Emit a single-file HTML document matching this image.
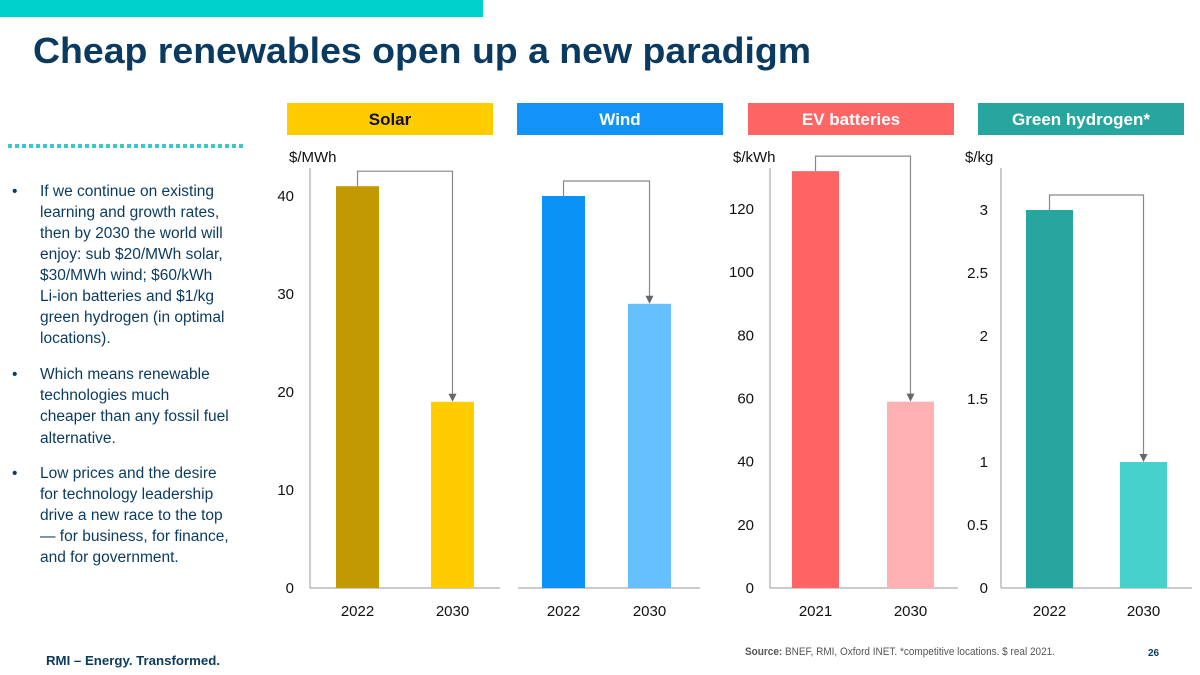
<!DOCTYPE html>
<html><head><meta charset="utf-8">
<style>
html,body{margin:0;padding:0;background:#fff;}
svg{display:block;font-family:"Liberation Sans",Arial,sans-serif;}
</style></head>
<body>
<svg id="s" width="1200" height="675" viewBox="0 0 1200 675" xmlns="http://www.w3.org/2000/svg">
<rect x="0" y="0" width="483" height="17" fill="#00d1cc"/>
<text x="33" y="63" font-size="36" font-weight="bold" fill="#0a3a5f" textLength="778" lengthAdjust="spacingAndGlyphs">Cheap renewables open up a new paradigm</text>
<line x1="8" y1="146" x2="244" y2="146" stroke="#3cc9c6" stroke-width="4" stroke-dasharray="4,3"/>
<g font-size="15.5" fill="#0a3a5f">
<text x="12" y="196">•</text>
<text x="40" y="196">If we continue on existing</text>
<text x="40" y="217">learning and growth rates,</text>
<text x="40" y="238">then by 2030 the world will</text>
<text x="40" y="259">enjoy: sub $20/MWh solar,</text>
<text x="40" y="280">$30/MWh wind; $60/kWh</text>
<text x="40" y="301">Li-ion batteries and $1/kg</text>
<text x="40" y="322">green hydrogen (in optimal</text>
<text x="40" y="343">locations).</text>
<text x="12" y="379">•</text>
<text x="40" y="379">Which means renewable</text>
<text x="40" y="400">technologies much</text>
<text x="40" y="421">cheaper than any fossil fuel</text>
<text x="40" y="443">alternative.</text>
<text x="12" y="478">•</text>
<text x="40" y="478">Low prices and the desire</text>
<text x="40" y="499">for technology leadership</text>
<text x="40" y="520">drive a new race to the top</text>
<text x="40" y="541">— for business, for finance,</text>
<text x="40" y="562">and for government.</text>
</g>
<text x="46" y="665" font-size="13" font-weight="bold" fill="#0a3a5f" textLength="174" lengthAdjust="spacingAndGlyphs">RMI – Energy. Transformed.</text>
<text x="745" y="655" font-size="11" fill="#555" textLength="310" lengthAdjust="spacingAndGlyphs"><tspan font-weight="bold">Source:</tspan> BNEF, RMI, Oxford INET. *competitive locations. $ real 2021.</text>
<text x="1148" y="656" font-size="10" font-weight="bold" fill="#0a3a5f">26</text>
<g id="charts"></g>
</svg>
<script>
const panelNames = ["Solar", "Wind", "EV batteries", "Green hydrogen*"];
const solarCats = ["2022", "2030"];
const solarVals = [41, 19];
const windCats = ["2022", "2030"];
const windVals = [40, 29];
const evCats = ["2021", "2030"];
const evVals = [132, 59];
const h2Cats = ["2022", "2030"];
const h2Vals = [3, 1];
const solarTicks = [0, 10, 20, 30, 40];
const evTicks = [0, 20, 40, 60, 80, 100, 120];
const h2Ticks = [0, 0.5, 1, 1.5, 2, 2.5, 3];

const NS = "http://www.w3.org/2000/svg";
const g = document.getElementById("charts");
function el(tag, attrs, parent) {
  const e = document.createElementNS(NS, tag);
  for (const k in attrs) e.setAttribute(k, attrs[k]);
  (parent || g).appendChild(e);
  return e;
}
const base = 588;
const panels = [
  {name: panelNames[0], hx: 287, hc: "#ffcc00", tc: "#111", cats: solarCats, vals: solarVals, scale: 9.8, bx: [336, 431], bw: 43, cols: ["#c29900", "#ffcc00"], axisX: 310, axisEnd: 500, ticks: solarTicks, unit: "$/MWh", unitX: 289, tickX: 294},
  {name: panelNames[1], hx: 517, hc: "#1393f8", tc: "#fff", cats: windCats, vals: windVals, scale: 9.8, bx: [542, 628], bw: 43, cols: ["#0b92f7", "#66bfff"], axisX: 518, axisEnd: 700, ticks: null},
  {name: panelNames[2], hx: 748, hc: "#ff6565", tc: "#fff", cats: evCats, vals: evVals, scale: 3.158, bx: [792, 887], bw: 47, cols: ["#ff6464", "#ffb0b0"], axisX: 770, axisEnd: 958, ticks: evTicks, unit: "$/kWh", unitX: 733, tickX: 754},
  {name: panelNames[3], hx: 978, hc: "#27a59f", tc: "#fff", cats: h2Cats, vals: h2Vals, scale: 126.0, bx: [1026, 1120], bw: 47, cols: ["#27a6a0", "#47d1cc"], axisX: 1001, axisEnd: 1192, ticks: h2Ticks, unit: "$/kg", unitX: 965, tickX: 988}
];
panels.forEach((p, pi) => {
  const slug = ["solar", "wind", "ev", "hydrogen"][pi];
  const y = v => base - v * p.scale;
  const hb = el("rect", {x: p.hx, y: 103, width: 206, height: 32, fill: p.hc});
  
  
  const ht = el("text", {x: p.hx + 103, y: 125, "text-anchor": "middle", "font-size": 17, "font-weight": "bold", fill: p.tc});
  ht.textContent = p.name;
  
  
  if (p.unit) {
    const u = el("text", {x: p.unitX, y: 162, "font-size": 15, fill: "#111"});
    u.textContent = p.unit;
    
    
  }
  if (p.ticks) {
    const ax = el("line", {x1: p.axisX, y1: 168, x2: p.axisX, y2: base, stroke: "#999", "stroke-width": 1});
    
    
    p.ticks.forEach(t => {
      const tt = el("text", {x: p.tickX, y: y(t) + 5, "text-anchor": "end", "font-size": 15, fill: "#111"});
      tt.textContent = String(t);
      
      
    });
  }
  const bl = el("line", {x1: p.axisX, y1: base, x2: p.axisEnd, y2: base, stroke: "#999", "stroke-width": 1});
  
  
  p.vals.forEach((v, i) => {
    const r = el("rect", {x: p.bx[i], y: y(v), width: p.bw, height: v * p.scale, fill: p.cols[i]});
    
    
    const c = el("text", {x: p.bx[i] + p.bw / 2, y: 616, "text-anchor": "middle", "font-size": 15, fill: "#111"});
    c.textContent = p.cats[i];
    
    
  });
  const c1 = p.bx[0] + p.bw / 2, c2 = p.bx[1] + p.bw / 2;
  const top = y(p.vals[0]) - 15;
  const y2 = y(p.vals[1]);
  const conn = el("polyline", {points: `${c1},${y(p.vals[0])} ${c1},${top} ${c2},${top} ${c2},${y2 - 7}`, fill: "none", stroke: "#888", "stroke-width": 1.2});
  
  
  const ah = el("polygon", {points: `${c2 - 4},${y2 - 8} ${c2 + 4},${y2 - 8} ${c2},${y2}`, fill: "#666"});
  
  
});
</script>
</body></html>
